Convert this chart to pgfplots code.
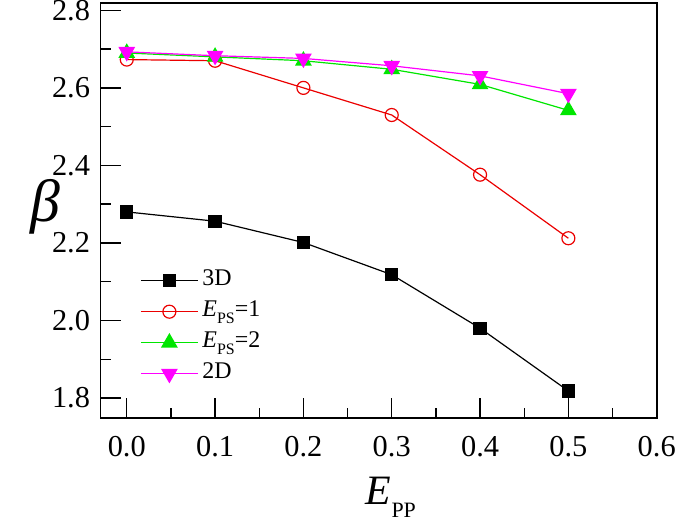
\documentclass[border=0pt]{standalone}
\usepackage{fontspec}
\setmainfont{Liberation Serif}
\newfontfamily\tnr{Liberation Serif}
\usepackage{pgfplots}
\pgfplotsset{compat=1.18}
\definecolor{cgreen}{RGB}{0,230,0}
\definecolor{cmag}{RGB}{255,0,255}
\definecolor{cred}{RGB}{235,0,0}
\begin{document}
\begin{tikzpicture}
\begin{axis}[
  scale only axis,
  width=556bp, height=414.7bp,
  xmin=-0.0295, xmax=0.6,
  ymin=1.749, ymax=2.819,
  xtick={0,0.1,0.2,0.3,0.4,0.5,0.6},
  ytick={1.8,2.0,2.2,2.4,2.6,2.8},
  minor x tick num=1, minor y tick num=1,
  xtick pos=bottom, ytick pos=left,
  tick align=inside,
  major tick length=20bp, minor tick length=10bp,
  every tick/.style={black, line width=1.3bp},
  axis line style={line width=1.6bp},
  /pgf/number format/assume math mode=true,
  /pgf/number format/.cd, fixed, fixed zerofill, precision=1, assume math mode=true,
  /pgfplots/.cd,
  xticklabel={\tnr\pgfmathprintnumber[assume math mode=true]{\tick}},
  yticklabel={\tnr\pgfmathprintnumber[assume math mode=true]{\tick}},
  ticklabel style={font=\tnr\fontsize{30.5}{34}\selectfont, inner sep=0pt},
  xticklabel style={anchor=north, yshift=-18bp},
  yticklabel style={anchor=east, xshift=-10.5bp},
  xlabel={\fontsize{42}{46}\selectfont\itshape E\raisebox{-13bp}{\fontsize{22}{24}\selectfont\upshape PP}},
  xlabel style={at={(rel axis cs:0.522,0)}, anchor=north, inner sep=0pt, yshift=-59bp},
  ylabel={\fontsize{60}{64}\selectfont\itshape β},
  ylabel style={rotate=-90, at={(rel axis cs:-0.099,0.508)}, anchor=center, inner sep=0pt},
  legend style={draw=none, fill=none, at={(axis cs:0.0151,2.143)}, anchor=north west,
    font=\fontsize{24}{28}\selectfont, row sep=0pt, inner sep=0pt,
    nodes={inner sep=0pt, text height=20bp, text depth=11bp},
    /tikz/every odd column/.append style={column sep=4bp}},
  legend cell align=left,
  legend image code/.code={\draw[mark repeat=2,mark phase=2] plot coordinates {(0bp,0bp)(28.5bp,0bp)(57bp,0bp)};},
  every axis plot/.append style={line width=1.2bp},
]
\addplot[black, mark=square*, mark size=6bp, mark options={solid}] coordinates {
 (0,2.280) (0.1,2.256) (0.2,2.201) (0.3,2.118) (0.4,1.980) (0.5,1.818)};
\addlegendentry{3D}
\addplot[cred, mark=o, mark size=6.5bp, mark options={fill=white, line width=1.2bp}] coordinates {
 (0,2.673) (0.1,2.670) (0.2,2.600) (0.3,2.530) (0.4,2.376) (0.5,2.212)};
\addlegendentry{\itshape E\raisebox{-7bp}{\fontsize{16}{18}\selectfont\upshape PS}\upshape =1}
\addplot[cgreen, mark=triangle*, mark size=8.5bp, mark options={fill=cgreen}] coordinates {
 (0,2.690) (0.1,2.680) (0.2,2.670) (0.3,2.648) (0.4,2.609) (0.5,2.542)};
\addlegendentry{\itshape E\raisebox{-7bp}{\fontsize{16}{18}\selectfont\upshape PS}\upshape =2}
\addplot[cmag, mark=triangle*, mark size=8.5bp, mark options={fill=cmag, rotate=180}] coordinates {
 (0,2.693) (0.1,2.683) (0.2,2.676) (0.3,2.657) (0.4,2.631) (0.5,2.585)};
\addlegendentry{2D}
\end{axis}
\pgfresetboundingbox
\path (current axis.south west) ++(-100.7bp,-101.3bp) coordinate (bbA);
\path (current axis.north east) ++(18.3bp,3bp) coordinate (bbB);
\useasboundingbox (bbA) rectangle (bbB);
\end{tikzpicture}
\end{document}
